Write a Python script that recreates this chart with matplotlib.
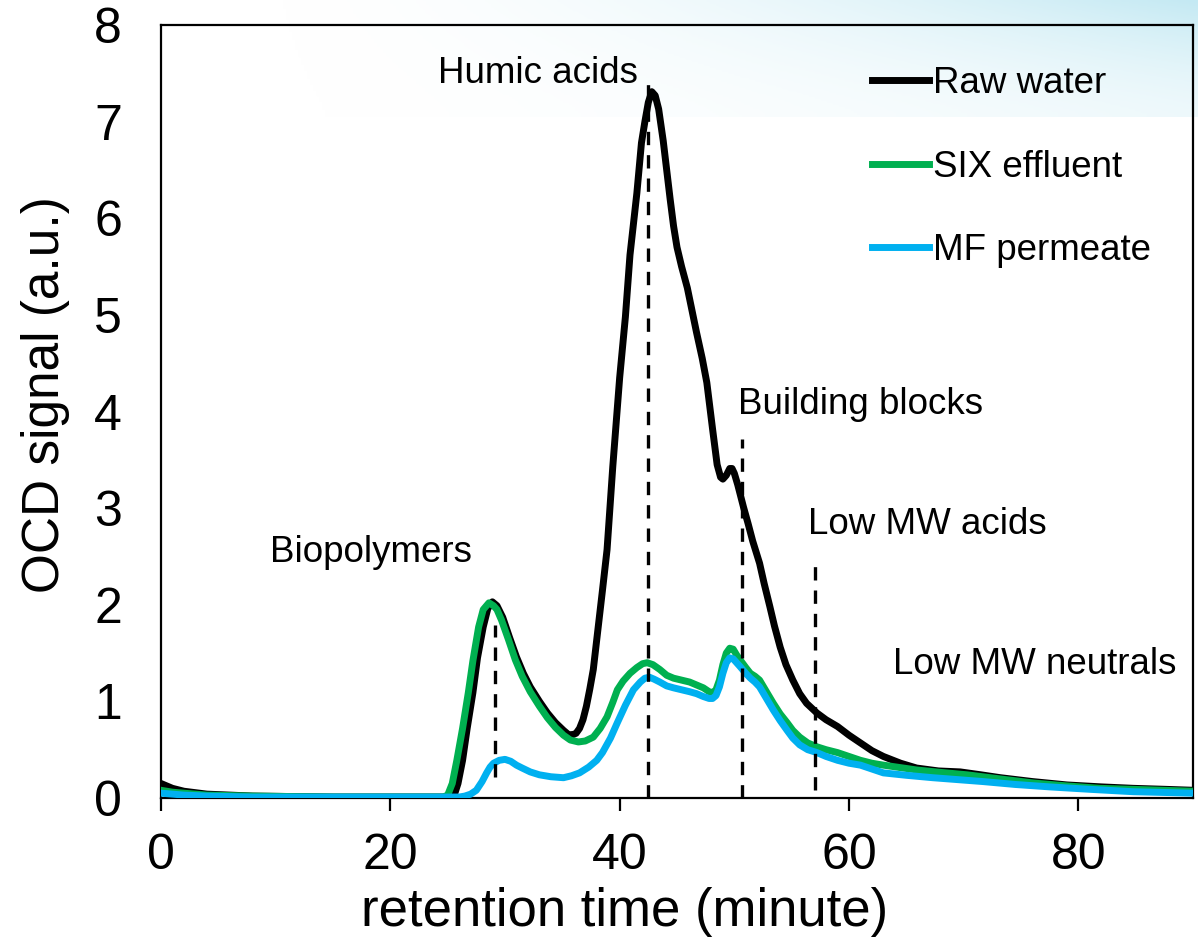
import numpy as np
import matplotlib.pyplot as plt
from matplotlib.colors import LinearSegmentedColormap

plt.rcParams['font.family'] = ['Liberation Sans', 'DejaVu Sans']

# OCD chromatograms (retention time in minutes, signal in a.u.)
raw_t = [0, 1, 2, 4, 8, 15, 25, 25.6, 25.9, 26.3, 26.7, 27.2, 27.6, 28.1, 28.5, 28.9, 29.3,
         29.8, 30.4, 31.0, 31.6, 32.2, 33.0, 33.7, 34.4, 35.1, 35.5, 35.8, 36.2, 36.5, 36.8,
         37.1, 37.4, 37.7, 38.1, 38.5, 38.9, 39.4, 40.0, 40.5, 40.9, 41.5, 41.9, 42.2, 42.5,
         42.8, 43.1, 43.4, 43.8, 44.1, 44.4, 44.7, 45.0, 45.4, 45.9, 46.3, 46.7, 47.2, 47.6,
         48.1, 48.5, 48.8, 49.0, 49.3, 49.6, 49.8, 50.0, 50.3, 50.8, 51.2, 51.6, 52.2, 52.6,
         53.1, 53.5, 54.0, 54.5, 55.1, 55.7, 56.3, 57.2, 58.0, 59.0, 60.0, 61.0, 62.0, 63.0,
         64.5, 65.9, 67.8, 69.7, 71.5, 73.2, 76.0, 79.0, 82.0, 84.8, 87.5, 90]
raw_y = [0.15, 0.10, 0.07, 0.04, 0.02, 0.01, 0.01, 0.04, 0.15, 0.39, 0.72, 1.09, 1.45, 1.77,
         1.96, 2.03, 1.99, 1.87, 1.66, 1.46, 1.29, 1.15, 1.00, 0.88, 0.78, 0.70, 0.66, 0.65,
         0.67, 0.72, 0.81, 0.95, 1.13, 1.33, 1.74, 2.15, 2.57, 3.43, 4.35, 4.98, 5.62, 6.26,
         6.78, 7.00, 7.20, 7.31, 7.27, 7.13, 6.80, 6.50, 6.20, 5.92, 5.70, 5.50, 5.28, 5.05,
         4.82, 4.55, 4.30, 3.82, 3.45, 3.32, 3.30, 3.34, 3.41, 3.41, 3.36, 3.24, 3.01, 2.84,
         2.66, 2.43, 2.22, 1.98, 1.78, 1.56, 1.38, 1.22, 1.08, 0.98, 0.88, 0.81, 0.74, 0.65,
         0.57, 0.49, 0.43, 0.36, 0.31, 0.28, 0.27, 0.24, 0.21, 0.17, 0.135, 0.115, 0.10, 0.09,
         0.08]

six_t = [0, 1, 2, 4, 8, 15, 24.6, 25.0, 25.4, 25.8, 26.3, 26.8, 27.2, 27.7, 28.1, 28.6, 29.0,
         29.3, 29.7, 30.3, 30.9, 31.5, 32.2, 33.0, 33.7, 34.4, 35.1, 35.7, 36.4, 37.0, 37.7,
         38.3, 38.9, 39.4, 39.8, 40.3, 40.9, 41.5, 42.0, 42.4, 42.9, 43.5, 44.1, 44.7, 45.4,
         46.1, 46.7, 47.3, 47.8, 48.1, 48.4, 48.7, 49.0, 49.3, 49.6, 49.9, 50.2, 50.5, 51.0,
         51.4, 51.8, 52.2, 52.8, 53.4, 54.0, 54.6, 55.1, 55.7, 56.4, 57.2, 58.0, 59.0, 60.0,
         61.0, 62.0, 63.0, 65.9, 68.0, 70.3, 73.0, 76.1, 79.0, 81.9, 86.0, 90]
six_y = [0.08, 0.06, 0.05, 0.03, 0.02, 0.01, 0.01, 0.03, 0.15, 0.39, 0.72, 1.09, 1.42, 1.77,
         1.95, 2.02, 1.99, 1.95, 1.84, 1.64, 1.43, 1.26, 1.10, 0.95, 0.83, 0.73, 0.65, 0.60,
         0.58, 0.59, 0.63, 0.72, 0.84, 0.99, 1.12, 1.21, 1.29, 1.35, 1.39, 1.40, 1.38, 1.33,
         1.27, 1.24, 1.22, 1.20, 1.17, 1.14, 1.10, 1.09, 1.12, 1.22, 1.38, 1.50, 1.55, 1.54,
         1.48, 1.43, 1.35, 1.29, 1.26, 1.22, 1.10, 0.98, 0.87, 0.78, 0.70, 0.63, 0.57, 0.53,
         0.50, 0.47, 0.43, 0.39, 0.36, 0.34, 0.29, 0.265, 0.24, 0.20, 0.155, 0.125, 0.10,
         0.085, 0.07]

mf_t = [0, 1, 2, 4, 8, 15, 26.0, 26.5, 27.0, 27.5, 28.0, 28.4, 28.7, 29.0, 29.5, 30.0, 30.5,
        31.0, 31.5, 32.2, 33.0, 34.0, 35.1, 35.8, 36.5, 37.3, 38.0, 38.5, 39.2, 39.8, 40.5,
        41.2, 41.8, 42.2, 42.6, 43.0, 43.5, 44.1, 44.7, 45.4, 46.1, 46.7, 47.3, 47.8, 48.1,
        48.4, 48.7, 49.0, 49.3, 49.6, 49.9, 50.2, 50.5, 51.0, 51.4, 51.8, 52.2, 52.8, 53.4,
        54.0, 54.6, 55.1, 55.7, 56.4, 57.2, 58.0, 59.0, 60.0, 61.0, 62.0, 63.0, 65.0, 67.3,
        69.5, 71.7, 74.5, 77.5, 81.0, 84.8, 90]
mf_y = [0.05, 0.04, 0.03, 0.02, 0.01, 0.01, 0.01, 0.02, 0.04, 0.08, 0.17, 0.26, 0.32, 0.36,
        0.39, 0.40, 0.38, 0.34, 0.31, 0.27, 0.24, 0.22, 0.21, 0.23, 0.26, 0.32, 0.39, 0.47,
        0.62, 0.78, 0.96, 1.12, 1.20, 1.24, 1.25, 1.23, 1.20, 1.16, 1.14, 1.12, 1.10, 1.08,
        1.05, 1.03, 1.03, 1.06, 1.15, 1.29, 1.40, 1.45, 1.44, 1.40, 1.36, 1.29, 1.24, 1.20,
        1.15, 1.03, 0.91, 0.80, 0.70, 0.62, 0.55, 0.50, 0.47, 0.43, 0.39, 0.36, 0.34, 0.30,
        0.26, 0.235, 0.21, 0.19, 0.17, 0.14, 0.115, 0.09, 0.065, 0.05]

# fraction markers: line x, line bottom, line top
frac_x = [29.1, 42.5, 50.7, 57.0]
frac_lo = [0.22, 0.0, 0.0, 0.08]
frac_hi = [1.79, 7.48, 3.72, 2.44]

fig = plt.figure(figsize=(11.98, 9.47), dpi=100)

# pale blue banner along the top of the slide
bg = fig.add_axes([0, 1 - 117 / 947, 1, 117 / 947], zorder=-5)
gx = np.linspace(0, 1, 400)
gy = np.linspace(0, 1, 60)
GX, GY = np.meshgrid(gx, gy)
shade = np.clip((GX - 0.2) / 0.8, 0, 1) ** 1.8 * (0.3 + 0.7 * (1 - GY) ** 1.5)
cmap = LinearSegmentedColormap.from_list('band', ['#ffffff', '#c4e9f3'])
bg.imshow(shade, cmap=cmap, aspect='auto', extent=[0, 1, 0, 1], vmin=0, vmax=1)
bg.axis('off')

ax = fig.add_axes([161 / 1198, 1 - 798 / 947, 1032 / 1198, 773 / 947])
ax.set_facecolor('none')

lw = 5.0
ax.plot(raw_t, raw_y, color='black', lw=lw, solid_joinstyle='round', label='Raw water', zorder=3)
ax.plot(six_t, six_y, color='#00b050', lw=lw, solid_joinstyle='round', label='SIX effluent', zorder=4)
ax.plot(mf_t, mf_y, color='#00b0f0', lw=lw, solid_joinstyle='round', label='MF permeate', zorder=5)

for x, lo, hi in zip(frac_x, frac_lo, frac_hi):
    ax.plot([x, x], [lo, hi], color='black', lw=2.4, ls=(0, (4, 3)), zorder=6)

txt = dict(fontsize=26.5, va='center')
ax.text(41.6, 7.5, 'Humic acids', ha='right', **txt)
ax.text(9.5, 2.54, 'Biopolymers', ha='left', **txt)
ax.text(50.3, 4.07, 'Building blocks', ha='left', **txt)
ax.text(56.4, 2.83, 'Low MW acids', ha='left', **txt)
ax.text(63.8, 1.38, 'Low MW neutrals', ha='left', **txt)

ax.set_xlim(0, 90)
ax.set_ylim(0, 8)
ax.set_xticks([0, 20, 40, 60, 80])
ax.set_yticks(range(0, 9))
ax.tick_params(axis='x', direction='out', length=9, width=1.6, labelsize=36, pad=16)
ax.tick_params(axis='y', length=0, labelsize=36, pad=28)
for s in ax.spines.values():
    s.set_linewidth(1.6)

ax.set_xlabel('retention time (minute)', fontsize=38)
ax.xaxis.set_label_coords(625 / 1198, 1 - 912 / 947, transform=fig.transFigure)
ax.xaxis.label.set_va('center')
ax.set_ylabel('OCD signal (a.u.)', fontsize=37)
ax.yaxis.set_label_coords(46 / 1198, 1 - 395 / 947, transform=fig.transFigure)
ax.yaxis.label.set_va('center')

ax.legend(loc='upper left', bbox_to_anchor=(872 / 1198, 1 - 66 / 947),
          bbox_transform=fig.transFigure, frameon=False, fontsize=26.5,
          handlelength=1.55, handletextpad=0.1, labelspacing=1.32,
          borderpad=0, borderaxespad=0)

fig.savefig('out.png', dpi=100)
